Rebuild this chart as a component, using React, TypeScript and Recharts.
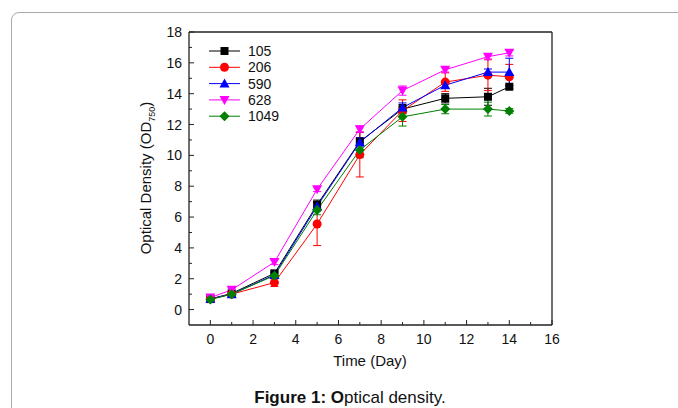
import React from 'react'
import {
  ComposedChart,
  Line,
  XAxis,
  YAxis,
  ErrorBar,
  ReferenceLine,
} from 'recharts'

const days = [0, 1, 3, 5, 7, 9, 11, 13, 14]

const s105 = [0.68, 1.05, 2.35, 6.8, 10.9, 13.0, 13.7, 13.8, 14.45]
const s206 = [0.7, 1.0, 1.75, 5.55, 10.05, 12.9, 14.75, 15.2, 15.1]
const s590 = [0.7, 1.0, 2.25, 6.7, 10.85, 13.1, 14.55, 15.4, 15.4]
const s628 = [0.78, 1.28, 3.08, 7.8, 11.7, 14.2, 15.55, 16.4, 16.65]
const s1049 = [0.65, 1.0, 2.2, 6.45, 10.35, 12.5, 13.0, 13.0, 12.88]

const e105 = [0.05, 0.1, 0.15, 0.3, 0.6, 0.3, 0.3, 0.55, 0.1]
const e206 = [0.05, 0.1, 0.25, 1.4, 1.45, 0.7, 0.6, 1.0, 0.8]
const e590 = [0.05, 0.1, 0.15, 0.3, 0.3, 0.3, 0.2, 0.2, 0.9]
const e628 = [0.05, 0.1, 0.15, 0.15, 0.2, 0.3, 0.15, 0.15, 0.2]
const e1049 = [0.05, 0.1, 0.15, 0.3, 0.5, 0.6, 0.3, 0.45, 0.15]

const xTicks = [0, 1, 2, 3, 4, 5, 6, 7, 8, 9, 10, 11, 12, 13, 14, 15, 16]
const yTicks = [0, 1, 2, 3, 4, 5, 6, 7, 8, 9, 10, 11, 12, 13, 14, 15, 16, 17, 18]

type Shape = 'square' | 'circle' | 'up' | 'down' | 'diamond'

const SERIES: { key: string; name: string; color: string; shape: Shape; values: number[]; errors: number[] }[] = [
  { key: 's105', name: '105', color: '#000000', shape: 'square', values: s105, errors: e105 },
  { key: 's206', name: '206', color: '#ff0000', shape: 'circle', values: s206, errors: e206 },
  { key: 's590', name: '590', color: '#0000ff', shape: 'up', values: s590, errors: e590 },
  { key: 's628', name: '628', color: '#ff00ff', shape: 'down', values: s628, errors: e628 },
  { key: 's1049', name: '1049', color: '#008000', shape: 'diamond', values: s1049, errors: e1049 },
]

const data = days.map((d, i) => {
  const row: Record<string, number> = { day: d }
  SERIES.forEach((s) => {
    row[s.key] = s.values[i]
    row[s.key + 'Err'] = s.errors[i]
  })
  return row
})

const FONT = '"Liberation Sans", Arial, sans-serif'

function Marker({ shape, cx, cy, color }: { shape: Shape; cx: number; cy: number; color: string }) {
  if (cx == null || cy == null) return null
  switch (shape) {
    case 'square':
      return <rect x={cx - 4} y={cy - 4} width={8} height={8} fill={color} />
    case 'circle':
      return <circle cx={cx} cy={cy} r={4.5} fill={color} />
    case 'up':
      return <polygon points={`${cx},${cy - 5} ${cx + 5},${cy + 4} ${cx - 5},${cy + 4}`} fill={color} />
    case 'down':
      return <polygon points={`${cx},${cy + 5} ${cx + 5},${cy - 4} ${cx - 5},${cy - 4}`} fill={color} />
    default:
      return <polygon points={`${cx},${cy - 5} ${cx + 5},${cy} ${cx},${cy + 5} ${cx - 5},${cy}`} fill={color} />
  }
}

function XTick(props: any) {
  const { x, y, payload } = props
  const v = payload.value
  const major = v % 2 === 0
  return (
    <g>
      <line x1={x} y1={y} x2={x} y2={y - (major ? 5 : 3)} stroke="#222" strokeWidth={1} />
      {major && (
        <text x={x} y={y + 19} textAnchor="middle" fontSize={14} fontFamily={FONT} fill="#111">
          {v}
        </text>
      )}
    </g>
  )
}

function YTick(props: any) {
  const { x, y, payload } = props
  const v = payload.value
  const major = v % 2 === 0
  return (
    <g>
      <line x1={x} y1={y} x2={x + (major ? 5 : 3)} y2={y} stroke="#222" strokeWidth={1} />
      {major && (
        <text x={x - 7} y={y + 5} textAnchor="end" fontSize={14} fontFamily={FONT} fill="#111">
          {v}
        </text>
      )}
    </g>
  )
}

function LegendBox() {
  return (
    <svg width={110} height={90} style={{ display: 'block' }}>
      {SERIES.map((s, i) => {
        const y = 9 + i * 16.3
        return (
          <g key={s.key}>
            <line x1={4} y1={y} x2={35} y2={y} stroke={s.color} strokeWidth={1} />
            <Marker shape={s.shape} cx={19.5} cy={y} color={s.color} />
            <text x={43} y={y + 5} fontSize={14} fontFamily={FONT} fill="#111">
              {s.name}
            </text>
          </g>
        )
      })}
    </svg>
  )
}

export default function App() {
  return (
    <div style={{ position: 'absolute', left: 0, top: 0, width: 678, height: 408, overflow: 'hidden', background: '#fff' }}>
      <div
        style={{
          position: 'absolute',
          left: 11,
          top: 12,
          width: 720,
          height: 440,
          border: '1.5px solid #aaa',
          borderRadius: 8,
        }}
      />
      <div style={{ position: 'absolute', left: 0, top: 0 }}>
        <ComposedChart
          width={678}
          height={408}
          data={data}
          margin={{ top: 32, right: 126, bottom: 53, left: 0 }}
        >
          <XAxis
            dataKey="day"
            type="number"
            domain={[-1, 16]}
            ticks={xTicks}
            interval={0}
            tickSize={0}
            tickMargin={0}
            tick={<XTick />}
            height={30}
            axisLine={{ stroke: '#222', strokeWidth: 1.3 }}
            allowDataOverflow
          />
          <YAxis
            type="number"
            domain={[-1, 18]}
            ticks={yTicks}
            interval={0}
            tickSize={0}
            tickMargin={0}
            tick={<YTick />}
            width={189}
            axisLine={{ stroke: '#222', strokeWidth: 1.3 }}
            allowDataOverflow
            label={{
              content: () => (
                <text
                  x={151}
                  y={178}
                  transform="rotate(-90 151 178)"
                  textAnchor="middle"
                  fontSize={15}
                  fontFamily={FONT}
                  fill="#111"
                >
                  Optical Density (OD
                  <tspan fontSize={9} dy={4}>750</tspan>
                  <tspan dy={-4}>)</tspan>
                </text>
              ),
            }}
          />
          <ReferenceLine y={18} stroke="#222" strokeWidth={1.3} />
          <ReferenceLine x={16} stroke="#222" strokeWidth={1.3} />
          {SERIES.map((s) => (
            <Line
              key={s.key}
              dataKey={s.key}
              name={s.name}
              type="linear"
              stroke={s.color}
              strokeWidth={1}
              isAnimationActive={false}
              dot={(p: any) => <Marker key={`${s.key}-${p.index}`} shape={s.shape} cx={p.cx} cy={p.cy} color={s.color} />}
              activeDot={false}
            >
              <ErrorBar dataKey={s.key + 'Err'} direction="y" width={4} stroke={s.color} strokeWidth={1} />
            </Line>
          ))}
        </ComposedChart>
        <div style={{ position: 'absolute', left: 205, top: 42 }}>
          <LegendBox />
        </div>
        <div
          style={{
            position: 'absolute',
            left: 0,
            top: 352,
            width: 740,
            textAlign: 'center',
            fontFamily: FONT,
            fontSize: 15,
            color: '#111',
          }}
        >
          Time (Day)
        </div>
        <div
          style={{
            position: 'absolute',
            left: 0,
            top: 388,
            width: 700,
            textAlign: 'center',
            fontFamily: FONT,
            fontSize: 17,
            color: '#111',
            whiteSpace: 'nowrap',
          }}
        >
          <b>Figure 1: O</b>ptical density.
        </div>
      </div>
    </div>
  )
}
